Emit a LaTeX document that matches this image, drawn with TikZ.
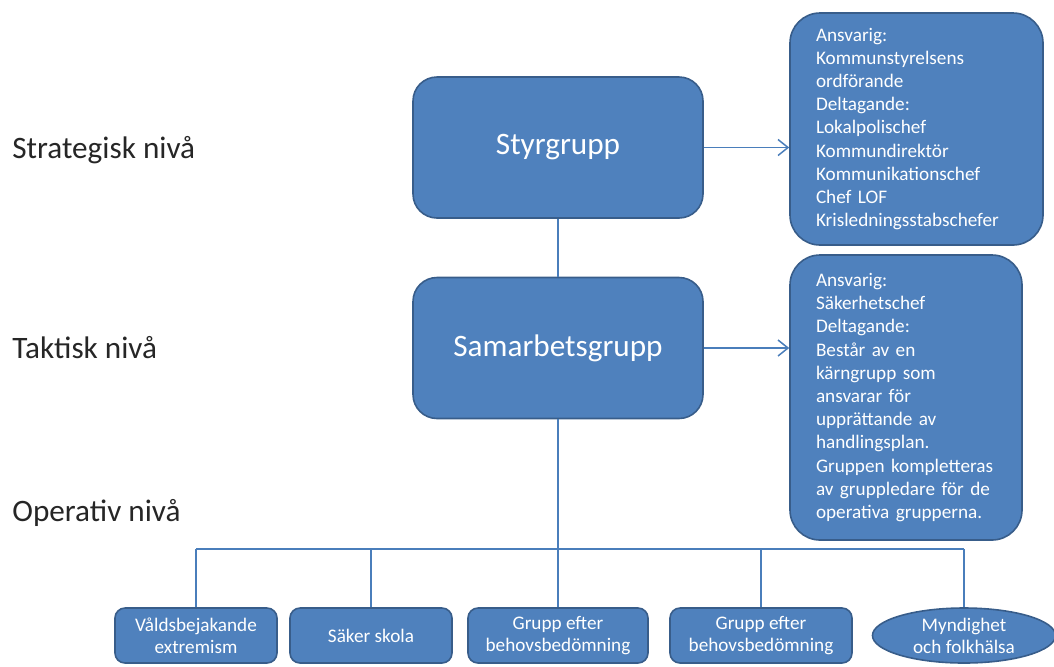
\documentclass[tikz,border=0pt]{standalone}
\usepackage{fontspec}
\setmainfont{Carlito}
\usetikzlibrary{arrows.meta,shapes.geometric}
\definecolor{boxfill}{RGB}{79,129,189}
\definecolor{boxline}{RGB}{56,93,138}
\definecolor{linkline}{RGB}{74,126,187}
\tikzset{
	grpbox/.style={draw=boxline, line width=0.8pt, fill=boxfill, text=white},
	bigbox/.style={grpbox, rounded corners=12pt, minimum width=145pt, minimum height=70.5pt, font=\fontsize{15.6}{18}\selectfont},
	infobox/.style={grpbox, rounded corners=15pt, align=left, inner xsep=13pt, inner ysep=0pt, font=\fontsize{9.6}{11.6}\selectfont},
	opbox/.style={grpbox, rounded corners=5pt, minimum height=27.5pt, inner sep=0pt, align=center, font=\fontsize{9.6}{11}\selectfont},
	levellabel/.style={anchor=west, inner sep=0pt, text=black!85, font=\fontsize{15.6}{18}\selectfont},
	link/.style={draw=linkline, line width=0.75pt}
}

\begin{document}
\begin{tikzpicture}[x=0.5pt, y=-0.5pt]
		%%%%% START %%%%%
		\useasboundingbox (0,0) rectangle (1054,666);
		
		\node[levellabel] (strat) at (12,150) {Strategisk nivå};
		\node[levellabel] (takt) at (12,348) {Taktisk nivå};
		\node[levellabel] (oper) at (12,513) {Operativ nivå};
		
		\node[bigbox] (styr) at (558,147.5) {Styrgrupp};
		\node[bigbox] (samarb) at (558,348) {Samarbetsgrupp};
		
		\node[infobox, text width=100.5pt, minimum height=116pt] (ansvar1) at (916.5,129) {Ansvarig:\\Kommunstyrelsens\\ordförande\\Deltagande:\\Lokalpolischef\\Kommundirektör\\Kommunikationschef\\Chef LOF\\Krisledningsstabschefer};
		\node[infobox, text width=90pt, minimum height=142.5pt] (ansvar2) at (906,397.5) {Ansvarig:\\Säkerhetschef\\Deltagande:\\Består av en\\kärngrupp som\\ansvarar för\\upprättande av\\handlingsplan.\\Gruppen kompletteras\\av gruppledare för de\\operativa grupperna.};
		
		\draw[link, -{Straight Barb[length=5pt, width=8pt]}] (styr.east) -- (styr.east -| ansvar1.west);
		\draw[link, -{Straight Barb[length=5pt, width=8pt]}] (samarb.east) -- (samarb.east -| ansvar2.west);
		\draw[link] (styr.south) -- (samarb.north);
		
		% operativa grupper
		\node[opbox, minimum width=81pt] (op1) at (196,635.5) {Våldsbejakande\\extremism};
		\node[opbox, minimum width=81pt] (op2) at (371,635.5) {Säker skola};
		\node[opbox, minimum width=90pt] (op3) at (558,635.5) {Grupp efter\\behovsbedömning};
		\node[opbox, minimum width=91pt] (op4) at (761,635.5) {Grupp efter\\behovsbedömning};
		\node[grpbox, ellipse, minimum width=91.5pt, minimum height=27.5pt, inner xsep=0pt, inner ysep=-2pt, align=center, font=\fontsize{9.6}{11}\selectfont] (op5) at (964,635.5) {Myndighet\\och folkhälsa};
		
		\coordinate (bus) at (558,549);
		\draw[link] (samarb.south) -- (bus);
		\draw[link] (op1.north |- bus) -- (op5.north |- bus);
		\foreach \i in {1,...,5}
			\draw[link] (op\i.north) -- (op\i.north |- bus);
		
		%%%%% END %%%%%
	\end{tikzpicture}
\end{document}
